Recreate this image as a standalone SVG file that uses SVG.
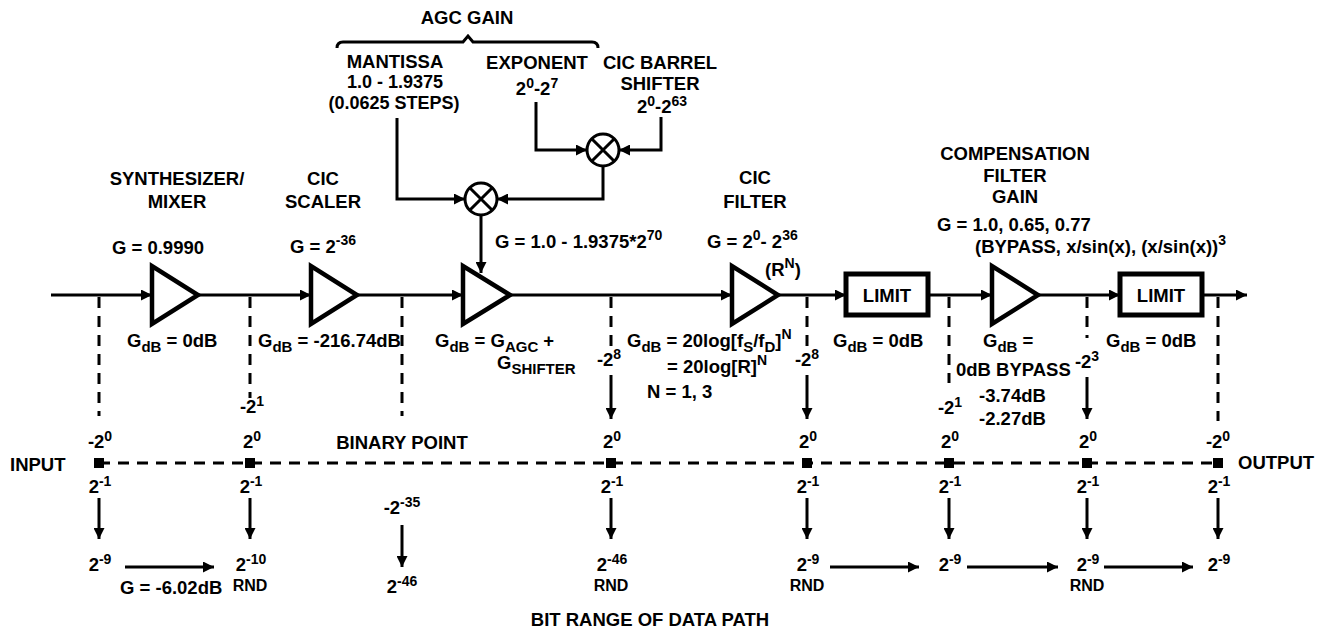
<svg xmlns="http://www.w3.org/2000/svg" width="1323" height="629" viewBox="0 0 1323 629">
<defs>
<marker id="ah" markerUnits="userSpaceOnUse" markerWidth="11" markerHeight="11" refX="11" refY="5.5" orient="auto"><path d="M0,0 L11,5.5 L0,11 z" fill="#000"/></marker>
<style>
text{font-family:"Liberation Sans",Arial,sans-serif;font-weight:bold;font-size:18.5px;fill:#000}
.m{text-anchor:middle}
.s{font-size:14px}
.sb{font-size:15px}
.r{font-size:16px}
.f18{font-size:18px}
.w{fill:none;stroke:#000;stroke-width:3}
.a{fill:none;stroke:#000;stroke-width:3;marker-end:url(#ah)}
.d{fill:none;stroke:#000;stroke-width:3;stroke-dasharray:11 8}
.tri{fill:#fff;stroke:#000;stroke-width:4.5;stroke-linejoin:miter}
.box{fill:#fff;stroke:#000;stroke-width:5}
.mul{fill:#fff;stroke:#000;stroke-width:3}
.sq{fill:#000}
</style>
</defs>
<rect width="1323" height="629" fill="#fff"/>

<g id="connectors">
<path class="w" d="M337,48 Q337,42 343,42 L463,42 L468,36 L473,42 L592,42 Q598,42 598,48"/>
<path class="a" d="M397,118 L397,199 L465,199"/>
<path class="a" d="M536,102 L536,150 L587,150"/>
<path class="a" d="M661,117 L661,150 L619,150"/>
<path class="a" d="M603,166 L603,199 L497,199"/>
<path class="a" d="M481,215 L481,273"/>
<line class="a" x1="51" y1="295" x2="152" y2="295"/>
<line class="a" x1="198" y1="295" x2="311" y2="295"/>
<line class="a" x1="357" y1="295" x2="463" y2="295"/>
<line class="a" x1="510" y1="295" x2="732" y2="295"/>
<line class="a" x1="778" y1="295" x2="846" y2="295"/>
<line class="a" x1="928" y1="295" x2="992" y2="295"/>
<line class="a" x1="1038" y1="295" x2="1120" y2="295"/>
<line class="a" x1="1202" y1="295" x2="1247" y2="295"/>
<line class="d" x1="99" y1="297" x2="99" y2="416"/>
<line class="d" x1="250" y1="297" x2="250" y2="398"/>
<line class="d" x1="402" y1="297" x2="402" y2="416"/>
<line class="d" x1="611" y1="297" x2="611" y2="346"/>
<line class="a" x1="611" y1="375" x2="611" y2="419"/>
<line class="d" x1="807" y1="297" x2="807" y2="346"/>
<line class="a" x1="807" y1="375" x2="807" y2="419"/>
<line class="d" x1="949" y1="297" x2="949" y2="383"/>
<line class="d" x1="1087" y1="297" x2="1087" y2="338"/>
<line class="a" x1="1087" y1="377" x2="1087" y2="419"/>
<line class="d" x1="1218" y1="297" x2="1218" y2="421"/>
<line class="d" x1="99" y1="463" x2="1218" y2="463"/>
<line class="a" x1="99" y1="498" x2="99" y2="539"/>
<line class="a" x1="250" y1="498" x2="250" y2="539"/>
<line class="a" x1="402" y1="525" x2="402" y2="567"/>
<line class="a" x1="611" y1="498" x2="611" y2="539"/>
<line class="a" x1="807" y1="498" x2="807" y2="539"/>
<line class="a" x1="949" y1="498" x2="949" y2="539"/>
<line class="a" x1="1087" y1="498" x2="1087" y2="539"/>
<line class="a" x1="1218" y1="498" x2="1218" y2="539"/>
<line class="a" x1="125" y1="567" x2="214" y2="567"/>
<line class="a" x1="830" y1="567" x2="919" y2="567"/>
<line class="a" x1="967" y1="567" x2="1058" y2="567"/>
<line class="a" x1="1104" y1="567" x2="1193" y2="567"/>
</g>

<g id="agc-gain-labels">
<text class="m" x="467" y="24">AGC GAIN</text>
<text class="m" x="395" y="68">MANTISSA</text>
<text class="m f18" x="395" y="88">1.0 - 1.9375</text>
<text class="m f18" x="394" y="109">(0.0625 STEPS)</text>
<text class="m" x="537" y="69">EXPONENT</text>
<text class="m" x="537" y="95">2<tspan class="s" dy="-7">0</tspan><tspan dy="7">-2</tspan><tspan class="s" dy="-7">7</tspan></text>
<text class="m" x="660" y="69">CIC BARREL</text>
<text class="m" x="660" y="90">SHIFTER</text>
<text class="m" x="662" y="113">2<tspan class="s" dy="-7">0</tspan><tspan dy="7">-2</tspan><tspan class="s" dy="-7">63</tspan></text>
</g>

<g id="mult-exp">
<circle class="mul" cx="603" cy="150" r="16"/>
<path class="w" d="M591.7,138.7 L614.3,161.3 M614.3,138.7 L591.7,161.3"/>
</g>
<g id="mult-agc">
<circle class="mul" cx="481" cy="199" r="16"/>
<path class="w" d="M469.7,187.7 L492.3,210.3 M492.3,187.7 L469.7,210.3"/>
</g>

<g id="synth-mixer">
<polygon class="tri" points="152,266 152,324 198,295"/>
<text class="m" x="177" y="185">SYNTHESIZER/</text>
<text class="m" x="177" y="208">MIXER</text>
<text class="m" x="158" y="254">G = 0.9990</text>
<text x="127" y="347">G<tspan class="sb" dy="5">dB</tspan><tspan dy="-5"> = 0dB</tspan></text>
</g>

<g id="cic-scaler">
<polygon class="tri" points="311,266 311,324 357,295"/>
<text class="m" x="323" y="185">CIC</text>
<text class="m" x="323" y="208">SCALER</text>
<text x="290" y="253">G = 2<tspan class="s" dy="-8">-36</tspan></text>
<text x="258" y="347">G<tspan class="sb" dy="5">dB</tspan><tspan dy="-5"> = -216.74dB</tspan></text>
</g>

<g id="agc">
<polygon class="tri" points="463,266 463,324 510,295"/>
<text x="495" y="248">G = 1.0 - 1.9375*2<tspan class="s" dy="-8">70</tspan></text>
<text x="435" y="347">G<tspan class="sb" dy="5">dB</tspan><tspan dy="-5"> = G</tspan><tspan class="sb" dy="5">AGC</tspan><tspan dy="-5"> +</tspan></text>
<text x="497" y="369">G<tspan class="sb" dy="5">SHIFTER</tspan></text>
</g>

<g id="cic-filter">
<polygon class="tri" points="732,266 732,324 778,295"/>
<text class="m" x="755" y="184">CIC</text>
<text class="m" x="755" y="208">FILTER</text>
<text x="707" y="248">G = 2<tspan class="s" dy="-8">0</tspan><tspan dy="8">- 2</tspan><tspan class="s" dy="-8">36</tspan></text>
<text x="765" y="276">(R<tspan class="s" dy="-8">N</tspan><tspan dy="8">)</tspan></text>
<text x="627" y="347">G<tspan class="sb" dy="5">dB</tspan><tspan dy="-5"> = 20log[f</tspan><tspan class="sb" dy="5">S</tspan><tspan dy="-5">/f</tspan><tspan class="sb" dy="5">D</tspan><tspan dy="-5">]</tspan><tspan class="s" dy="-8">N</tspan></text>
<text x="667" y="373">= 20log[R]<tspan class="s" dy="-8">N</tspan></text>
<text x="647" y="398">N = 1, 3</text>
</g>

<g id="limit-1">
<rect class="box" x="846" y="274" width="82" height="41"/>
<text class="m" x="887" y="302">LIMIT</text>
<text x="833" y="347">G<tspan class="sb" dy="5">dB</tspan><tspan dy="-5"> = 0dB</tspan></text>
</g>

<g id="compensation">
<polygon class="tri" points="992,266 992,324 1038,295"/>
<text class="m" x="1015" y="160">COMPENSATION</text>
<text class="m" x="1015" y="182">FILTER</text>
<text class="m" x="1015" y="203">GAIN</text>
<text x="937" y="231">G = 1.0, 0.65, 0.77</text>
<text x="975" y="253">(BYPASS, x/sin(x), (x/sin(x))<tspan class="s" dy="-8">3</tspan></text>
<text x="983" y="347">G<tspan class="sb" dy="5">dB</tspan><tspan dy="-5"> =</tspan></text>
<text x="956" y="376">0dB BYPASS</text>
<text x="979" y="402">-3.74dB</text>
<text x="979" y="425">-2.27dB</text>
</g>

<g id="limit-2">
<rect class="box" x="1120" y="274" width="82" height="41"/>
<text class="m" x="1161" y="302">LIMIT</text>
<text x="1106" y="347">G<tspan class="sb" dy="5">dB</tspan><tspan dy="-5"> = 0dB</tspan></text>
</g>

<g id="bit-range">
<text x="10" y="471">INPUT</text>
<text x="1238" y="469">OUTPUT</text>
<text class="m" x="402" y="449">BINARY POINT</text>
<rect class="sq" x="94" y="458" width="10" height="10"/>
<rect class="sq" x="245" y="458" width="10" height="10"/>
<rect class="sq" x="606" y="458" width="10" height="10"/>
<rect class="sq" x="802" y="458" width="10" height="10"/>
<rect class="sq" x="944" y="458" width="10" height="10"/>
<rect class="sq" x="1082" y="458" width="10" height="10"/>
<rect class="sq" x="1213" y="458" width="10" height="10"/>

<text class="m" x="100" y="448">-2<tspan class="s" dy="-7">0</tspan></text>
<text class="m" x="252" y="413">-2<tspan class="s" dy="-7">1</tspan></text>
<text class="m" x="252" y="448">2<tspan class="s" dy="-7">0</tspan></text>
<text class="m" x="609" y="366">-2<tspan class="s" dy="-7">8</tspan></text>
<text class="m" x="612" y="448">2<tspan class="s" dy="-7">0</tspan></text>
<text class="m" x="807" y="366">-2<tspan class="s" dy="-7">8</tspan></text>
<text class="m" x="808" y="448">2<tspan class="s" dy="-7">0</tspan></text>
<text class="m" x="950" y="414">-2<tspan class="s" dy="-7">1</tspan></text>
<text class="m" x="950" y="448">2<tspan class="s" dy="-7">0</tspan></text>
<text class="m" x="1087" y="368">-2<tspan class="s" dy="-7">3</tspan></text>
<text class="m" x="1088" y="448">2<tspan class="s" dy="-7">0</tspan></text>
<text class="m" x="1218" y="448">-2<tspan class="s" dy="-7">0</tspan></text>

<text class="m" x="100" y="493">2<tspan class="s" dy="-7">-1</tspan></text>
<text class="m" x="251" y="493">2<tspan class="s" dy="-7">-1</tspan></text>
<text class="m" x="612" y="493">2<tspan class="s" dy="-7">-1</tspan></text>
<text class="m" x="808" y="493">2<tspan class="s" dy="-7">-1</tspan></text>
<text class="m" x="950" y="493">2<tspan class="s" dy="-7">-1</tspan></text>
<text class="m" x="1088" y="493">2<tspan class="s" dy="-7">-1</tspan></text>
<text class="m" x="1219" y="493">2<tspan class="s" dy="-7">-1</tspan></text>

<text class="m" x="100" y="571">2<tspan class="s" dy="-7">-9</tspan></text>
<text x="120" y="594">G = -6.02dB</text>
<text class="m" x="251" y="571">2<tspan class="s" dy="-7">-10</tspan></text>
<text class="m r" x="250" y="591">RND</text>
<text class="m" x="402" y="514">-2<tspan class="s" dy="-7">-35</tspan></text>
<text class="m" x="402" y="593">2<tspan class="s" dy="-7">-46</tspan></text>
<text class="m" x="612" y="571">2<tspan class="s" dy="-7">-46</tspan></text>
<text class="m r" x="611" y="591">RND</text>
<text class="m" x="808" y="571">2<tspan class="s" dy="-7">-9</tspan></text>
<text class="m r" x="807" y="591">RND</text>
<text class="m" x="950" y="571">2<tspan class="s" dy="-7">-9</tspan></text>
<text class="m" x="1088" y="571">2<tspan class="s" dy="-7">-9</tspan></text>
<text class="m r" x="1087" y="591">RND</text>
<text class="m" x="1219" y="571">2<tspan class="s" dy="-7">-9</tspan></text>
<text class="m" x="650" y="626">BIT RANGE OF DATA PATH</text>
</g>
</svg>
